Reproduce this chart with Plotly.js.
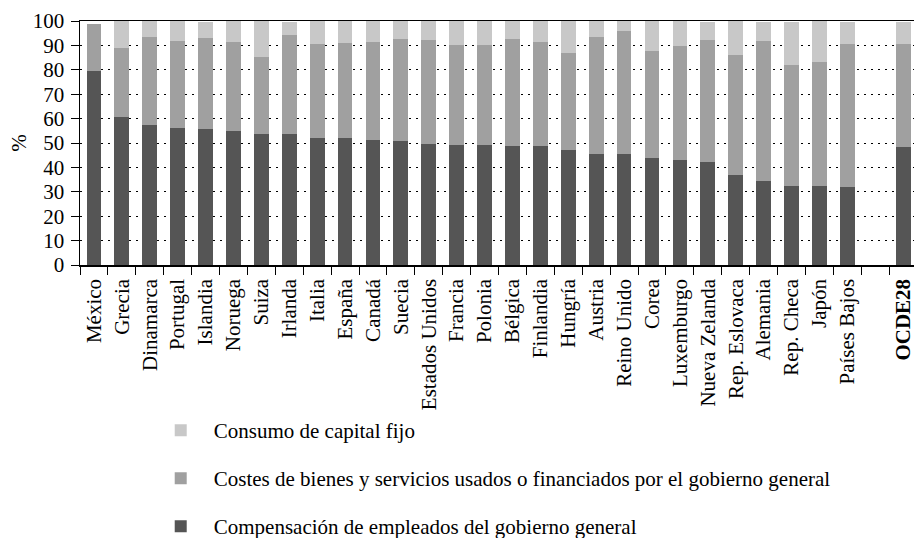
<!DOCTYPE html>
<html>
<head>
<meta charset="utf-8">
<script src="https://cdn.plot.ly/plotly-3.0.1.min.js"></script>
<style>html,body{margin:0;padding:0;background:#fff;}#chart{width:914px;height:538px;}</style>
</head>
<body>
<div id="chart"></div>
<script>
const categories = ["México","Grecia","Dinamarca","Portugal","Islandia","Noruega","Suiza","Irlanda","Italia","España","Canadá","Suecia","Estados Unidos","Francia","Polonia","Bélgica","Finlandia","Hungría","Austria","Reino Unido","Corea","Luxemburgo","Nueva Zelanda","Rep. Eslovaca","Alemania","Rep. Checa","Japón","Países Bajos"," ","<b>OCDE28</b>"];
const compensacion = [79.6,60.8,57.4,56.3,55.7,54.9,53.8,53.8,52.2,52.2,51.2,50.8,49.6,49.2,49.2,48.8,48.8,47.1,45.5,45.5,43.9,43.0,42.2,36.9,34.4,32.4,32.4,32.0,null,48.4];
const costes = [19.2,28.3,36.2,35.6,37.5,36.6,31.6,40.6,38.5,38.9,40.3,42.0,42.6,41.1,41.1,44.0,42.7,39.9,48.1,50.4,43.8,46.8,50.0,49.2,57.4,49.6,50.8,58.6,null,42.2];
const capital = [0,10.9,6.4,8.1,6.3,8.5,14.6,5.1,9.3,8.9,8.5,7.2,7.8,9.7,9.7,7.2,8.5,13.0,6.4,4.1,12.3,10.2,7.3,13.9,7.7,17.5,16.8,8.9,null,8.9];
const seriesNames = ["Compensación de empleados del gobierno general","Costes de bienes y servicios usados o financiados por el gobierno general","Consumo de capital fijo"];
const seriesColors = ["#555555","#a0a0a0","#c8c8c8"];
const seriesValues = [compensacion, costes, capital];
const legendIds = ["legend3","legend2","legend"];

const font = "Liberation Serif, Times New Roman, serif";
const traces = seriesValues.map((vals, i) => ({
  type: "bar",
  x: categories,
  y: vals,
  name: seriesNames[i],
  legend: legendIds[i],
  marker: {color: seriesColors[i], line: {width: 0}},
  hoverinfo: "skip"
}));

function legendAt(top) {
  return {
    orientation: "v",
    xref: "paper", x: 0.0812, xanchor: "left",
    yref: "container", y: (538 - top) / 538, yanchor: "top",
    itemwidth: 56,
    font: {family: font, size: 21, color: "#000"},
    bgcolor: "rgba(0,0,0,0)"
  };
}

const layout = {
  width: 914, height: 538,
  margin: {l: 80, r: 0, t: 21, b: 273},
  paper_bgcolor: "#fff", plot_bgcolor: "#fff",
  barmode: "stack",
  bargap: 0.47,
  font: {family: font, size: 20, color: "#000"},
  xaxis: {
    type: "category",
    range: [-0.5, 29.39],
    tickson: "boundaries",
    ticks: "outside", ticklen: 8, tickwidth: 1, tickcolor: "#000",
    tickangle: -90,
    ticklabelstandoff: 4,
    showline: true, linecolor: "#000", linewidth: 1.5, mirror: true,
    showgrid: false,
    tickfont: {family: font, size: 21, color: "#000"},
    fixedrange: true
  },
  yaxis: {
    range: [0, 100],
    dtick: 10,
    ticks: "outside", ticklen: 8, tickwidth: 1, tickcolor: "#000",
    showline: true, linecolor: "#000", linewidth: 1.5,
    showgrid: true, gridcolor: "#000", gridwidth: 1, griddash: "2px,5px",
    zeroline: false,
    ticklabelstandoff: 2,
    tickfont: {family: font, size: 21, color: "#000"},
    title: {text: "%", font: {family: font, size: 21, color: "#000"}, standoff: 0},
    fixedrange: true
  },
  showlegend: true,
  legend: legendAt(410),
  legend2: legendAt(458),
  legend3: legendAt(506)
};

Plotly.newPlot("chart", traces, layout, {displayModeBar: false, staticPlot: true});
</script>
</body>
</html>
